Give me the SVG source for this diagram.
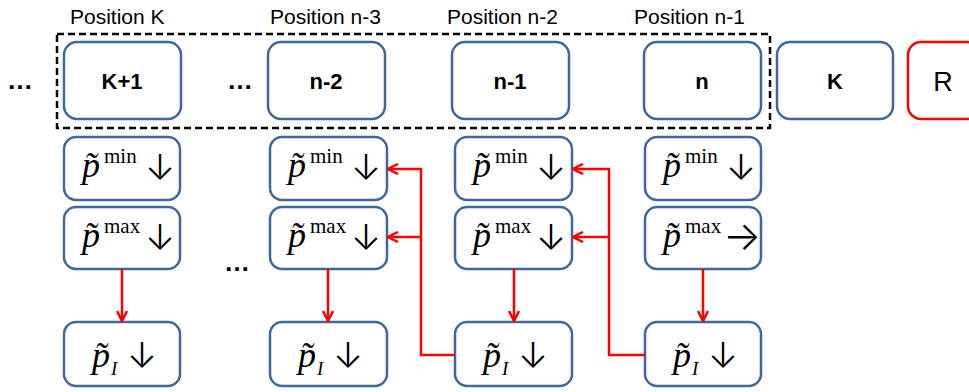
<svg xmlns="http://www.w3.org/2000/svg" width="969" height="392" viewBox="0 0 969 392">
<style>
.box{fill:#fff;stroke:#41689a;stroke-width:2.5}
.red{fill:#fff;stroke:#ff0000;stroke-width:2.5}
.lbl{font-family:"Liberation Sans",Arial,sans-serif;font-size:21px;fill:#000}
.bold{font-family:"Liberation Sans",Arial,sans-serif;font-size:22px;font-weight:bold;fill:#000;text-anchor:middle}
.dots{font-family:"Liberation Sans",Arial,sans-serif;font-size:26px;font-weight:bold;fill:#000;text-anchor:middle}
.m{font-family:"Liberation Serif","Times New Roman",serif;fill:#000}
.pi{font-style:italic;font-size:36px}
.sup{font-size:21px}
.sub{font-style:italic;font-size:19px}
.ar{font-family:Inter,"DejaVu Sans",sans-serif;font-weight:300;font-size:36px}
.arr{font-family:Inter,"DejaVu Sans",sans-serif;font-weight:300;font-size:40px}
.con{fill:none;stroke:#ff0000;stroke-width:2.5}
</style>
<defs>
<marker id="ah" viewBox="0 0 10 10" refX="9" refY="5" markerWidth="5" markerHeight="5" orient="auto" markerUnits="strokeWidth">
<path d="M1,1 L9,5 L1,9" fill="none" stroke="#ff0000" stroke-width="2"/>
</marker>
</defs>
<rect width="969" height="392" fill="#fff"/>

<g id="labels">
<text class="lbl" x="70" y="24">Position K</text>
<text class="lbl" x="270" y="24">Position n-3</text>
<text class="lbl" x="447" y="24">Position n-2</text>
<text class="lbl" x="634" y="24">Position n-1</text>
<text class="dots" x="20" y="89">…</text>
<text class="dots" x="240" y="89">…</text>
<text class="dots" x="237" y="271">…</text>
</g>

<rect id="window" x="57" y="34" width="713" height="94" fill="none" stroke="#000" stroke-width="2.5" stroke-dasharray="7,4"/>

<g id="nK1"><rect class="box" x="64" y="42" width="117" height="77" rx="13"/><text class="bold" x="122" y="89">K+1</text></g>
<g id="nN2"><rect class="box" x="268" y="42" width="117" height="77" rx="13"/><text class="bold" x="326" y="89">n-2</text></g>
<g id="nN1"><rect class="box" x="452" y="42" width="117" height="77" rx="13"/><text class="bold" x="510" y="89">n-1</text></g>
<g id="nN"><rect class="box" x="644" y="42" width="117" height="77" rx="13"/><text class="bold" x="702" y="89">n</text></g>
<g id="nK"><rect class="box" x="777" y="42" width="116" height="77" rx="13"/><text class="bold" x="835" y="89">K</text></g>
<g id="nR"><rect class="red" x="908" y="42" width="72" height="77" rx="13"/><text class="lbl" x="943" y="91" text-anchor="middle" style="font-size:27px">R</text></g>

<g id="c1min"><rect class="box" x="64" y="137" width="116" height="63" rx="12"/>
<g class="m" transform="translate(82,177)"><text class="pi" x="0" y="0">p̃</text><text class="sup" x="22" y="-14">min</text><text class="ar" x="63" y="3">↓</text></g></g>
<g id="c1max"><rect class="box" x="64" y="207" width="116" height="62" rx="12"/>
<g class="m" transform="translate(82,247)"><text class="pi" x="0" y="0">p̃</text><text class="sup" x="22" y="-14">max</text><text class="ar" x="63" y="3">↓</text></g></g>
<g id="c1pi"><rect class="box" x="64" y="322" width="116" height="64" rx="12"/>
<g class="m" transform="translate(92,367)"><text class="pi" x="0" y="0">p̃</text><text class="sub" x="19" y="8">I</text><text class="ar" x="35" y="1">↓</text></g></g>

<g id="c2min"><rect class="box" x="270" y="137" width="117" height="63" rx="12"/>
<g class="m" transform="translate(288,177)"><text class="pi" x="0" y="0">p̃</text><text class="sup" x="22" y="-14">min</text><text class="ar" x="63" y="3">↓</text></g></g>
<g id="c2max"><rect class="box" x="270" y="207" width="117" height="62" rx="12"/>
<g class="m" transform="translate(288,247)"><text class="pi" x="0" y="0">p̃</text><text class="sup" x="22" y="-14">max</text><text class="ar" x="63" y="3">↓</text></g></g>
<g id="c2pi"><rect class="box" x="270" y="322" width="117" height="64" rx="12"/>
<g class="m" transform="translate(298,367)"><text class="pi" x="0" y="0">p̃</text><text class="sub" x="19" y="8">I</text><text class="ar" x="35" y="1">↓</text></g></g>

<g id="c3min"><rect class="box" x="455" y="137" width="117" height="63" rx="12"/>
<g class="m" transform="translate(473,177)"><text class="pi" x="0" y="0">p̃</text><text class="sup" x="22" y="-14">min</text><text class="ar" x="63" y="3">↓</text></g></g>
<g id="c3max"><rect class="box" x="455" y="207" width="117" height="62" rx="12"/>
<g class="m" transform="translate(473,247)"><text class="pi" x="0" y="0">p̃</text><text class="sup" x="22" y="-14">max</text><text class="ar" x="63" y="3">↓</text></g></g>
<g id="c3pi"><rect class="box" x="455" y="322" width="117" height="64" rx="12"/>
<g class="m" transform="translate(483,367)"><text class="pi" x="0" y="0">p̃</text><text class="sub" x="19" y="8">I</text><text class="ar" x="35" y="1">↓</text></g></g>

<g id="c4min"><rect class="box" x="645" y="137" width="116" height="63" rx="12"/>
<g class="m" transform="translate(663,177)"><text class="pi" x="0" y="0">p̃</text><text class="sup" x="22" y="-14">min</text><text class="ar" x="63" y="3">↓</text></g></g>
<g id="c4max"><rect class="box" x="645" y="207" width="116" height="62" rx="12"/>
<g class="m" transform="translate(663,247)"><text class="pi" x="0" y="0">p̃</text><text class="sup" x="22" y="-14">max</text><text class="arr" x="60" y="3">→</text></g></g>
<g id="c4pi"><rect class="box" x="645" y="322" width="116" height="64" rx="12"/>
<g class="m" transform="translate(673,367)"><text class="pi" x="0" y="0">p̃</text><text class="sub" x="19" y="8">I</text><text class="ar" x="35" y="1">↓</text></g></g>

<g id="connectors">
<path class="con" d="M122,269 V321" marker-end="url(#ah)"/>
<path class="con" d="M328,269 V321" marker-end="url(#ah)"/>
<path class="con" d="M514,269 V321" marker-end="url(#ah)"/>
<path class="con" d="M703,269 V321" marker-end="url(#ah)"/>
<path class="con" d="M455,355 H421 V169 H388" marker-end="url(#ah)"/>
<path class="con" d="M421,237 H388" marker-end="url(#ah)"/>
<path class="con" d="M645,355 H609 V169 H573" marker-end="url(#ah)"/>
<path class="con" d="M609,237 H573" marker-end="url(#ah)"/>
</g>
</svg>
